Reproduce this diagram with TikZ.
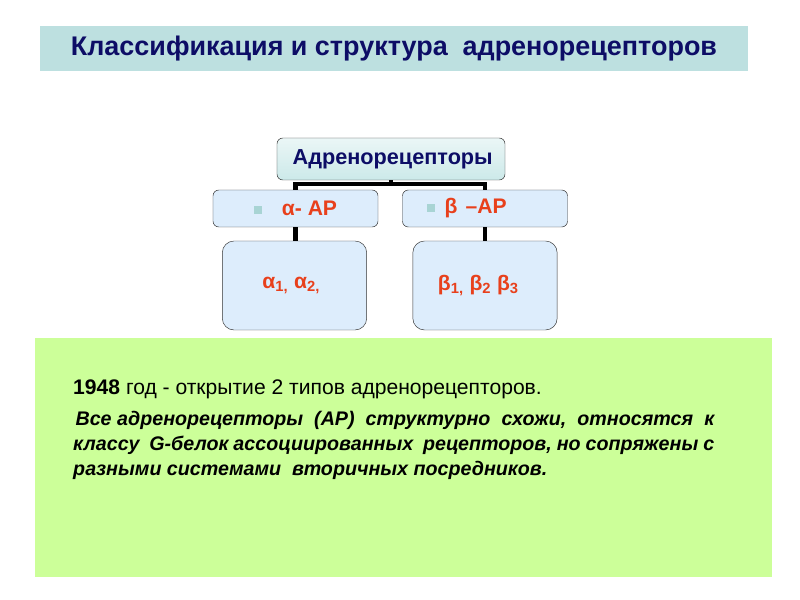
\documentclass[tikz,border=0pt]{standalone}
\usepackage{fontspec}
\setmainfont{Liberation Sans}
\usepackage{xcolor}
\usetikzlibrary{positioning}
\definecolor{navytext}{HTML}{0D0D66}
\definecolor{redtext}{HTML}{E8401C}
\definecolor{titlefill}{HTML}{BDE0E0}
\definecolor{topfill}{HTML}{CCE9E9}
\definecolor{subfill}{HTML}{DDEDFC}
\definecolor{bulletc}{HTML}{A8D4D4}
\definecolor{notefill}{HTML}{CCFF99}

\begin{document}
\begin{tikzpicture}[
  x=0.03cm, y=-0.03cm,
  box/.style={draw=black!80, rounded corners=5pt, rectangle, align=center, inner sep=2pt},
  titlebar/.style={rectangle, fill=titlefill, minimum width=21.24cm, minimum height=1.35cm, font=\bfseries\fontsize{23}{27}\selectfont, text=navytext},
  root/.style={box, top color=topfill!40, bottom color=topfill, minimum width=6.84cm, minimum height=1.26cm, font=\bfseries\fontsize{18.5}{21}\selectfont, text=navytext},
  kind/.style={box, fill=subfill, minimum width=4.95cm, minimum height=1.11cm, font=\bfseries\fontsize{18}{21}\selectfont, text=redtext},
  leaf/.style={box, rounded corners=10pt, fill=subfill, minimum width=4.33cm, minimum height=2.67cm, font=\bfseries\fontsize{18}{21}\selectfont, text=redtext},
  note/.style={rectangle, fill=notefill, minimum width=22.11cm, minimum height=7.17cm},
  link/.style={line width=4pt, black}
]
\useasboundingbox (0,0) rectangle (800,600);
\node[titlebar] (title) at (394,48.5) {Классификация и структура\ \ адренорецепторов};

\node[root] (top) at (391,159) {\hspace{0.1cm}Адренорецепторы};
\node[kind] (alpha) at (295.5,208.5) {{\color{bulletc}\rule{0.24cm}{0.24cm}}\hspace{0.6cm}\raisebox{-0.05cm}{α- АР}};
\node[kind] (beta) at (485,208.5) {{\color{bulletc}\rule{0.24cm}{0.24cm}}\hspace{0.3cm}\raisebox{-0.05cm}{β\hspace{0.25cm}–АР}\hspace{1.1cm}};
\node[leaf] (alphasub) at (294.5,285.5) {\raisebox{-0.15cm}{α\textsubscript{1,} α\textsubscript{2,}}\hspace{0.2cm}};
\node[leaf] (betasub) at (485,285.5) {\raisebox{-0.15cm}{β\textsubscript{1,} β\textsubscript{2}\ β\textsubscript{3}}\hspace{0.4cm}};

\coordinate (bar) at (391,184);
\draw[link] (top.south) -- (bar);
\draw[link] (alpha.north) |- (bar);
\draw[link] (beta.north) |- (bar);
\draw[link] (alpha.south) -- (alpha.south |- alphasub.north);
\draw[link] (beta.south) -- (beta.south |- betasub.north);

\node[note] (green) at (403.5,457.5) {};
\node[anchor=base west, inner sep=0pt, font=\fontsize{18}{21}\selectfont] (year) at (73,395) {\textbf{1948} год - открытие 2 типов адренорецепторов.};
\node[anchor=north west, text width=19.23cm, inner sep=0pt, align=justify, font=\bfseries\itshape\fontsize{16.8}{21.5}\selectfont] (about) at (73,411)
  {\hspace*{2pt}Все адренорецепторы\ \ (АР)\ \ структурно\ \ схожи,\ \ относятся\ \ к\linebreak
   классу\ \ G-белок ассоциированных\ \ рецепторов, но сопряжены с\linebreak
   разными системами\ \ вторичных посредников.};
\end{tikzpicture}
\end{document}
